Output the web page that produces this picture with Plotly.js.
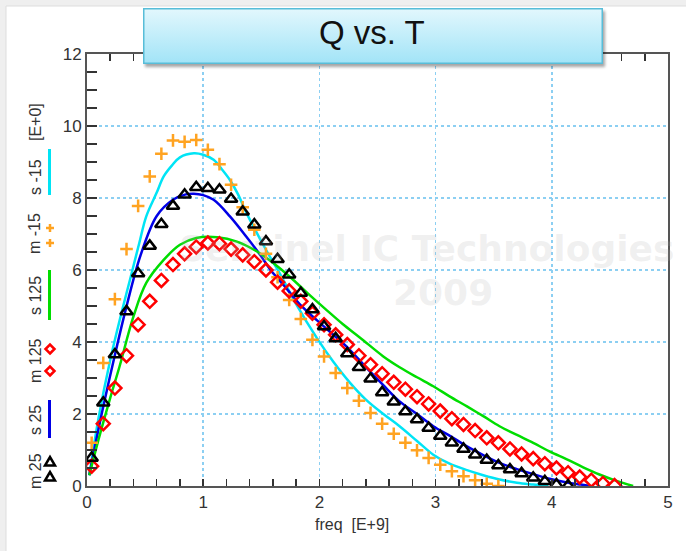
<!DOCTYPE html>
<html>
<head>
<meta charset="utf-8">
<script src="https://cdn.plot.ly/plotly-3.0.1.min.js"></script>
<style>html,body{margin:0;padding:0;background:#fff;}#chart{width:686px;height:551px;}</style>
</head>
<body>
<div id="chart"></div>
<script>
// ---- measured data (freq in E+9, Q in E+0) ----
const freqM15 = [0.04,0.14,0.24,0.34,0.44,0.54,0.64,0.74,0.84,0.94,1.04,1.14,1.24,1.34,1.44,1.54,1.64,1.74,1.84,1.94,2.04,2.14,2.24,2.34,2.44,2.54,2.64,2.74,2.84,2.94,3.04,3.14,3.24,3.34,3.44,3.54];
const qM15 = [1.2,3.42,5.19,6.58,7.78,8.6,9.23,9.6,9.56,9.61,9.34,8.94,8.37,7.74,7.12,6.45,5.8,5.17,4.64,4.06,3.6,3.14,2.72,2.37,2.03,1.73,1.45,1.2,0.99,0.78,0.59,0.41,0.27,0.16,0.06,0.0];

const freqM25 = [0.04,0.14,0.24,0.34,0.44,0.54,0.64,0.74,0.84,0.94,1.04,1.14,1.24,1.34,1.44,1.54,1.64,1.74,1.84,1.94,2.04,2.14,2.24,2.34,2.44,2.54,2.64,2.74,2.84,2.94,3.04,3.14,3.24,3.34,3.44,3.54,3.64,3.74,3.84,3.94,4.04,4.14];
const qM25 = [0.78,2.31,3.65,4.85,5.9,6.67,7.27,7.78,8.09,8.3,8.27,8.23,7.97,7.62,7.26,6.79,6.3,5.87,5.36,4.9,4.43,4.1,3.68,3.3,2.98,2.6,2.34,2.07,1.85,1.61,1.39,1.2,1.03,0.87,0.72,0.57,0.46,0.35,0.23,0.13,0.04,0.01];

const freqM125 = [0.04,0.14,0.24,0.34,0.44,0.54,0.64,0.74,0.84,0.94,1.04,1.14,1.24,1.34,1.44,1.54,1.64,1.74,1.84,1.94,2.04,2.14,2.24,2.34,2.44,2.54,2.64,2.74,2.84,2.94,3.04,3.14,3.24,3.34,3.44,3.54,3.64,3.74,3.84,3.94,4.04,4.14,4.24,4.34,4.44,4.54];
const qM125 = [0.55,1.73,2.72,3.62,4.48,5.13,5.71,6.15,6.45,6.64,6.75,6.73,6.58,6.42,6.23,6.0,5.66,5.42,5.13,4.8,4.48,4.2,3.93,3.62,3.37,3.12,2.88,2.69,2.48,2.28,2.08,1.87,1.71,1.54,1.34,1.2,1.03,0.89,0.76,0.62,0.5,0.37,0.25,0.16,0.07,0.01];

// ---- simulated curves ----
const freqS15 = [0.02,0.1,0.2,0.3,0.37,0.45,0.51,0.6,0.66,0.73,0.8,0.92,1.0,1.09,1.16,1.23,1.3,1.37,1.45,1.52,1.59,1.66,1.8,1.98,2.12,2.26,2.4,2.55,2.69,2.84,2.98,3.12,3.27,3.41,3.55,3.7,3.84,3.97];
const qS15 = [0.3,1.9,3.5,4.85,5.73,6.75,7.49,8.15,8.6,8.9,9.13,9.24,9.2,9.06,8.8,8.5,8.1,7.6,7.1,6.68,6.28,5.9,5.05,4.1,3.45,2.88,2.4,2.0,1.66,1.25,0.87,0.62,0.44,0.3,0.18,0.09,0.04,0.0];

const freqS25 = [0.02,0.1,0.23,0.34,0.46,0.6,0.74,0.85,0.92,1.0,1.09,1.23,1.37,1.49,1.58,1.7,1.83,1.98,2.12,2.26,2.4,2.55,2.69,2.84,2.98,3.12,3.27,3.41,3.55,3.7,3.84,3.98,4.13,4.25,4.33];
const qS25 = [0.3,1.6,3.5,4.99,6.4,7.5,7.95,8.1,8.12,8.08,7.95,7.49,6.93,6.42,6.0,5.55,5.05,4.6,4.2,3.79,3.3,2.8,2.35,2.0,1.66,1.4,1.1,0.86,0.64,0.47,0.33,0.2,0.1,0.04,0.0];

const freqS125 = [0.02,0.1,0.2,0.28,0.4,0.51,0.66,0.8,0.94,1.12,1.29,1.46,1.6,1.75,1.9,2.05,2.2,2.35,2.55,2.69,2.84,2.98,3.12,3.27,3.41,3.55,3.7,3.84,3.98,4.13,4.27,4.41,4.55,4.7];
const qS125 = [0.3,1.3,2.45,3.32,4.71,5.64,6.28,6.7,6.89,6.91,6.79,6.52,6.2,5.8,5.35,4.92,4.5,4.12,3.6,3.3,3.02,2.77,2.49,2.21,1.94,1.66,1.42,1.2,0.96,0.74,0.52,0.32,0.15,0.0];

const xTickVals = [0,1,2,3,4,5];
const yTickVals = [0,2,4,6,8,10,12];

// ---- layout geometry helpers (pixels -> paper) ----
const W = 686, H = 551, ML = 87, MR = 18, MT = 54, MB = 65;
const PW = W - ML - MR, PH = H - MT - MB;
const px = v => (v - ML) / PW;
const py = v => (H - MB - v) / PH;

const FONT = '"Liberation Sans Narrow", "Liberation Sans", Arial, sans-serif';
const ORANGE = '#ffa321', RED = '#ff0000', CYAN = '#00e4f5', BLUE = '#0000e6', GREEN = '#00dd00';

const traces = [
  {x: freqS15, y: qS15, mode: 'lines', line: {color: CYAN, width: 2.5, shape: 'spline'}},
  {x: freqS25, y: qS25, mode: 'lines', line: {color: BLUE, width: 2.5, shape: 'spline'}},
  {x: freqS125, y: qS125, mode: 'lines', line: {color: GREEN, width: 2.5, shape: 'spline'}},
  {x: freqM15, y: qM15, mode: 'markers', marker: {symbol: 'cross-thin-open', size: 9, color: ORANGE, line: {color: ORANGE, width: 2.5}}},
  {x: freqM125, y: qM125, mode: 'markers', marker: {symbol: 'diamond-open', size: 10, color: RED, line: {color: RED, width: 2.5}}},
  {x: freqM25, y: qM25, mode: 'markers', marker: {symbol: 'triangle-up-open', size: 11, color: '#000', line: {color: '#000', width: 2.5}}}
];

// title box (gradient + border + soft shadow) as one inline SVG image
const bx0 = 143, bx1 = 603, by0 = 8, by1 = 64;
const bw = bx1 - bx0, bh = by1 - by0, iw = bw + 8, ih = bh + 8;
const boxSvg = '<svg xmlns="http://www.w3.org/2000/svg" width="' + iw + '" height="' + ih + '" viewBox="0 0 ' + iw + ' ' + ih + '" preserveAspectRatio="none">' +
  '<defs><linearGradient id="g" x1="0" y1="0" x2="0" y2="1"><stop offset="0" stop-color="#e2f7fd"/><stop offset="1" stop-color="#a2e4f7"/></linearGradient>' +
  '<filter id="f" x="-5%" y="-20%" width="115%" height="160%"><feGaussianBlur stdDeviation="1.6"/></filter></defs>' +
  '<rect x="2" y="3" width="' + bw + '" height="' + bh + '" fill="#000" opacity="0.35" filter="url(#f)"/>' +
  '<rect x="0.75" y="0.75" width="' + (bw - 1.5) + '" height="' + (bh - 1.5) + '" fill="url(#g)" stroke="#58bdd8" stroke-width="1.5"/>' +
  '</svg>';

const shapes = [
  // white panel over light gray frame
  {type: 'rect', xref: 'paper', yref: 'paper', x0: px(6), x1: px(W + 2), y0: py(H + 2), y1: py(6), fillcolor: '#ffffff', line: {width: 0}, layer: 'below'},
  {type: 'line', xref: 'paper', yref: 'paper', x0: px(6), x1: px(6), y0: py(H + 2), y1: py(6), line: {color: '#dddddd', width: 1}, layer: 'below'},
  {type: 'line', xref: 'paper', yref: 'paper', x0: px(6), x1: px(W + 2), y0: py(6), y1: py(6), line: {color: '#dddddd', width: 1}, layer: 'below'},
  // y-axis legend glyphs
  {type: 'line', xref: 'paper', yref: 'paper', x0: px(49.5), x1: px(49.5), y0: py(195), y1: py(149), line: {color: CYAN, width: 3}},
  {type: 'line', xref: 'paper', yref: 'paper', x0: px(49.5), x1: px(49.5), y0: py(320), y1: py(270), line: {color: GREEN, width: 3}},
  {type: 'line', xref: 'paper', yref: 'paper', x0: px(49.5), x1: px(49.5), y0: py(438), y1: py(400), line: {color: BLUE, width: 3}}
];
function glyph(path, ypx, color, fill) {
  shapes.push({type: 'path', xref: 'paper', yref: 'paper', xsizemode: 'pixel', ysizemode: 'pixel',
    xanchor: px(50), yanchor: py(ypx), path: path, fillcolor: fill, line: {color: color, width: 2.5}});
}
const PLUS = 'M -4 0 L 4 0 M 0 -4 L 0 4';
const DIAM = 'M 0 -4.5 L 4.5 0 L 0 4.5 L -4.5 0 Z';
const TRI = 'M -5 -3.5 L 5 -3.5 L 0 5 Z';
glyph(PLUS, 228, ORANGE, 'rgba(0,0,0,0)');
glyph(PLUS, 243, ORANGE, 'rgba(0,0,0,0)');
glyph(DIAM, 349, RED, '#ffffff');
glyph(DIAM, 371, RED, '#ffffff');
glyph(TRI, 462, '#000', '#ffffff');
glyph(TRI, 477, '#000', '#ffffff');

function yText(t, ypx) {
  return {text: t, xref: 'paper', yref: 'paper', x: px(35), y: py(ypx), textangle: -90,
    showarrow: false, xanchor: 'center', yanchor: 'middle', font: {family: FONT, size: 16, color: '#333'}};
}

const WM = {family: '"DejaVu Sans", sans-serif', size: 36, color: 'rgba(180,180,180,0.2)', weight: 'bold'};
const annotations = [
  {text: 'Sentinel IC Technologies', xref: 'paper', yref: 'paper', x: px(426), y: py(248), showarrow: false,
   xanchor: 'center', yanchor: 'middle', font: WM},
  {text: '2009', xref: 'paper', yref: 'paper', x: px(443), y: py(292), showarrow: false,
   xanchor: 'center', yanchor: 'middle', font: WM},
  {text: 'Q vs. T', xref: 'paper', yref: 'paper', x: px(372), y: py(33), showarrow: false,
   xanchor: 'center', yanchor: 'middle', font: {family: FONT, size: 33, color: '#111'}},
  {text: 'freq\u00a0 [E+9]', xref: 'paper', yref: 'paper', x: px(352), y: py(524), showarrow: false,
   xanchor: 'center', yanchor: 'middle', font: {family: FONT, size: 16, color: '#333'}},
  yText('[E+0]', 122),
  yText('s -15', 177),
  yText('m -15', 234),
  yText('s 125', 296),
  yText('m 125', 361),
  yText('s 25', 420),
  yText('m 25', 471)
];

const layout = {
  width: W, height: H,
  margin: {l: ML, r: MR, t: MT, b: MB, pad: 0},
  paper_bgcolor: '#efefef',
  plot_bgcolor: '#ffffff',
  showlegend: false,
  xaxis: {
    range: [0, 5], tickvals: xTickVals, ticktext: xTickVals.map(String),
    ticks: 'inside', ticklen: 7, tickwidth: 1.5, tickcolor: '#333',
    minor: {dtick: 0.2, tick0: 0, ticks: 'inside', ticklen: 7, tickwidth: 1.5, tickcolor: '#333', showgrid: false},
    showline: true, linecolor: '#555', linewidth: 2, mirror: 'ticks',
    showgrid: true, gridcolor: '#8ccff2', griddash: 'dot', gridwidth: 1.5,
    zeroline: false, tickfont: {family: FONT, size: 17, color: '#333'}, fixedrange: true
  },
  yaxis: {
    range: [0, 12], tickvals: yTickVals, ticktext: yTickVals.map(String),
    ticks: 'inside', ticklen: 10, tickwidth: 1.5, tickcolor: '#333',
    minor: {dtick: 0.5, tick0: 0, ticks: 'inside', ticklen: 10, tickwidth: 1.5, tickcolor: '#333', showgrid: false},
    showline: true, linecolor: '#555', linewidth: 2, mirror: true,
    showgrid: true, gridcolor: '#8ccff2', griddash: 'dot', gridwidth: 1.5,
    zeroline: false, tickfont: {family: FONT, size: 17, color: '#333'}, fixedrange: true
  },
  images: [{source: 'data:image/svg+xml;charset=utf-8,' + encodeURIComponent(boxSvg),
    xref: 'paper', yref: 'paper', x: px(bx0), y: py(by0), sizex: iw / PW, sizey: ih / PH,
    xanchor: 'left', yanchor: 'top', sizing: 'stretch', layer: 'above'}],
  shapes: shapes,
  annotations: annotations
};

Plotly.newPlot('chart', traces, layout, {displayModeBar: false, staticPlot: true});
</script>
</body>
</html>
